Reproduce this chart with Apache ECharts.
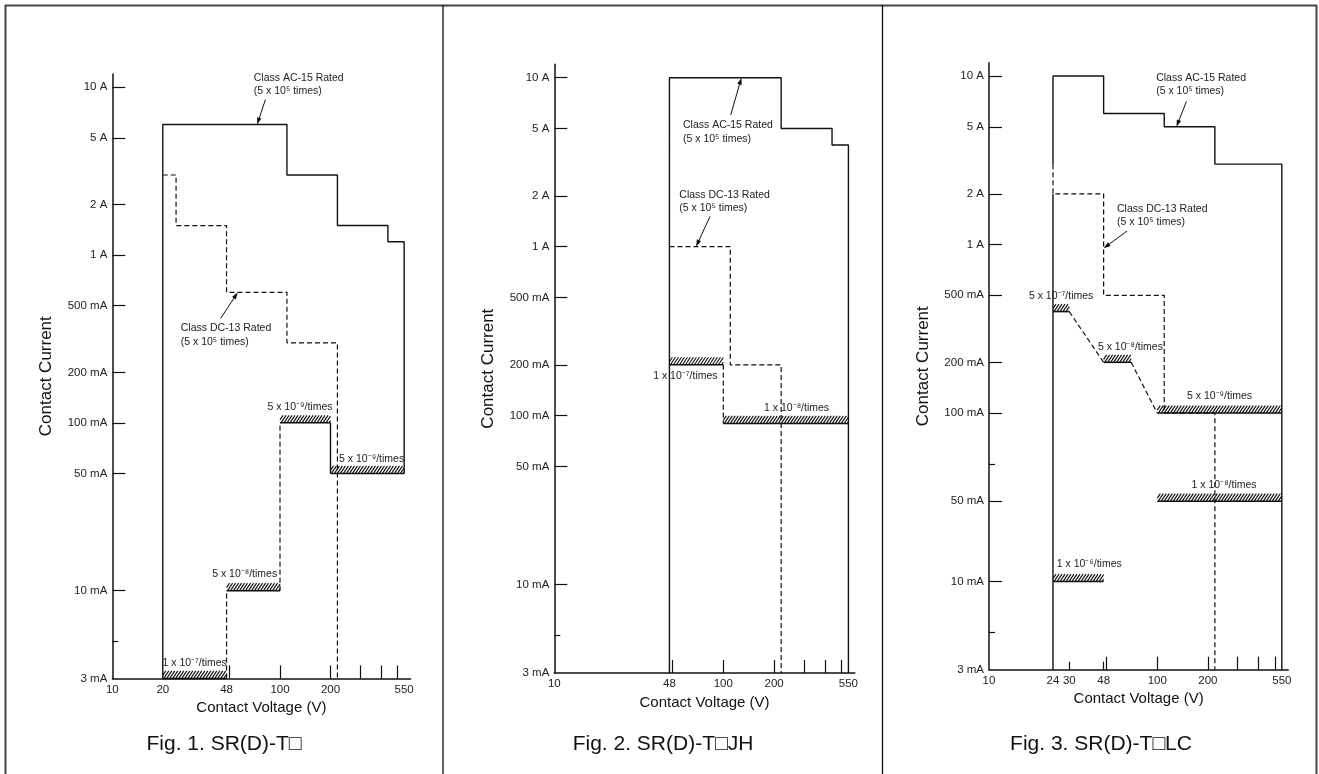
<!DOCTYPE html>
<html><head><meta charset="utf-8">
<script src="https://cdn.jsdelivr.net/npm/echarts@6/dist/echarts.min.js"></script>
<style>html,body{margin:0;padding:0;background:#fff}#c{width:1319px;height:774px}</style>
</head><body><div id="c"></div><script>
// ---------------- DATA ----------------
// Panel 1: SR(D)-T□
const p1XLabels = [10, 20, 48, 100, 200, 550];
const p1XTicks = [50, 100, 200, 300, 400, 500];
const p1YLabelValues = [0.003, 0.01, 0.05, 0.1, 0.2, 0.5, 1, 2, 5, 10];
const p1YLabels = ['3 mA', '10 mA', '50 mA', '100 mA', '200 mA', '500 mA', '1 A', '2 A', '5 A', '10 A'];
const p1YTicks = [0.01, 0.05, 0.1, 0.2, 0.5, 1, 2, 5, 10];
const p1YMinorTicks = [0.005];
const p1AC = [[20, 0.003], [20, 6], [110, 6], [110, 3], [220, 3], [220, 1.5], [440, 1.5], [440, 1.2], [550, 1.2], [550, 0.05]];
const p1DC = [[20, 3], [24, 3], [24, 1.5], [48, 1.5], [48, 0.6], [110, 0.6], [110, 0.3], [220, 0.3], [220, 0.003]];
const p1Life = [[20, 48, 0.003], [48, 100, 0.01], [100, 200, 0.1], [200, 550, 0.05]];
const p1LifeLabels = ['1 x 10\u207B\u2077/times', '5 x 10\u207B\u2078/times', '5 x 10\u207B\u2079/times', '5 x 10\u207B\u2079/times'];
const p1LifeSolidLinks = [[[200, 0.1], [200, 0.05]]];
const p1LifeDashedLinks = [[[48, 0.003], [48, 0.01]], [[100, 0.01], [100, 0.1]]];

// Panel 2: SR(D)-T□JH
const p2XLabels = [10, 48, 100, 200, 550];
const p2XTicks = [50, 100, 200, 300, 400, 500];
const p2YLabelValues = [0.003, 0.01, 0.05, 0.1, 0.2, 0.5, 1, 2, 5, 10];
const p2YLabels = ['3 mA', '10 mA', '50 mA', '100 mA', '200 mA', '500 mA', '1 A', '2 A', '5 A', '10 A'];
const p2YTicks = [0.01, 0.05, 0.1, 0.2, 0.5, 1, 2, 5, 10];
const p2YMinorTicks = [0.005];
const p2AC = [[48, 0.003], [48, 10], [220, 10], [220, 5], [440, 5], [440, 4], [550, 4], [550, 0.003]];
const p2DC = [[48, 1], [110, 1], [110, 0.2], [220, 0.2], [220, 0.003]];
const p2Life = [[48, 100, 0.2], [100, 550, 0.09]];
const p2LifeLabels = ['1 x 10\u207B\u2077/times', '1 x 10\u207B\u2078/times'];
const p2LifeSolidLinks = [];
const p2LifeDashedLinks = [[[100, 0.2], [100, 0.09]]];

// Panel 3: SR(D)-T□LC
const p3XLabels = [10, 24, 30, 48, 100, 200, 550];
const p3XTicks = [50, 100, 200, 300, 400, 500];
const p3XMinorTicks = [30, 48];
const p3YLabelValues = [0.003, 0.01, 0.03, 0.1, 0.2, 0.5, 1, 2, 5, 10];
const p3YLabels = ['3 mA', '10 mA', '50 mA', '100 mA', '200 mA', '500 mA', '1 A', '2 A', '5 A', '10 A'];
const p3YTicks = [0.01, 0.03, 0.1, 0.2, 0.5, 1, 2, 5, 10];
const p3YMinorTicks = [0.005, 0.05];
const p3AC = [[24, 3], [24, 10], [48, 10], [48, 6], [110, 6], [110, 5], [220, 5], [220, 3], [550, 3], [550, 0.003]];
const p3ACLower = [[24, 2], [24, 0.003]];
const p3DC = [[24, 3], [24, 2], [48, 2], [48, 0.5], [110, 0.5], [110, 0.1], [220, 0.1], [220, 0.003]];
const p3Life = [[24, 30, 0.4], [48, 70, 0.2], [100, 550, 0.1], [100, 550, 0.03], [24, 48, 0.01]];
const p3LifeLabels = ['5 x 10\u207B\u2077/times', '5 x 10\u207B\u2078/times', '5 x 10\u207B\u2079/times', '1 x 10\u207B\u2078/times', '1 x 10\u207B\u2076/times'];
const p3LifeSolidLinks = [];
const p3LifeDashedLinks = [[[30, 0.4], [48, 0.2]], [[70, 0.2], [100, 0.1]]];

const figTitles = ['Fig. 1. SR(D)-T\u25A1', 'Fig. 2. SR(D)-T\u25A1JH', 'Fig. 3. SR(D)-T\u25A1LC'];
const ratingTexts = ['Class AC-15 Rated\n(5 x 10\u2075 times)', 'Class DC-13 Rated\n(5 x 10\u2075 times)'];

// ---------------- LAYOUT / STYLE ----------------
const FONT = "'Liberation Sans', Arial, Helvetica, sans-serif";
const X_MIN = 10, X_MAX = 600, Y_MIN = 0.003, Y_MAX = 12;
const grids = [
  {left: 112.3, top: 74, width: 298.2, height: 604.4},
  {left: 554.3, top: 64.3, width: 300.5, height: 608.7},
  {left: 989, top: 62.7, width: 299.2, height: 607}
];
const titleCenters = [[224, 744], [663, 744], [1101, 744]];
const lifeLabelOffsets = [
  [[0, -15.5], [-8.6, -16.7], [-5.3, -16], [4.3, -14.6]],
  [[-11, 11.2], [10.7, -15.3]],
  [[0, -16], [13, -15.5], [0, -16.5], [4.5, -16], [11, -17]]
];
const ratingNotes = [
  {panel: 0, kind: 0, tip: [73, 6], tail: [8.4, -25], text: [-3.3, -46.6]},
  {panel: 0, kind: 1, tip: [56, 0.6], tail: [-17, 26], text: [-57, 36]},
  {panel: 1, kind: 0, tip: [128, 10], tail: [-10.7, 37.3], text: [-58.4, 47.6]},
  {panel: 1, kind: 1, tip: [69, 1], tail: [14, -30.3], text: [-16.7, -52]},
  {panel: 2, kind: 0, tip: [130, 5], tail: [10, -25.3], text: [-20.3, -48.7]},
  {panel: 2, kind: 1, tip: [48, 0.95], tail: [23.4, -17.3], text: [13.4, -39.6]}
];

const panels = [
  {xLabels: p1XLabels, xTicks: p1XTicks, xMinor: null, yLV: p1YLabelValues, yL: p1YLabels, yTicks: p1YTicks, yMinor: p1YMinorTicks,
   solid: [p1AC].concat(p1LifeSolidLinks), dashed: [p1DC].concat(p1LifeDashedLinks), life: p1Life, lifeLabels: p1LifeLabels},
  {xLabels: p2XLabels, xTicks: p2XTicks, xMinor: null, yLV: p2YLabelValues, yL: p2YLabels, yTicks: p2YTicks, yMinor: p2YMinorTicks,
   solid: [p2AC].concat(p2LifeSolidLinks), dashed: [p2DC].concat(p2LifeDashedLinks), life: p2Life, lifeLabels: p2LifeLabels},
  {xLabels: p3XLabels, xTicks: p3XTicks, xMinor: p3XMinorTicks, yLV: p3YLabelValues, yL: p3YLabels, yTicks: p3YTicks, yMinor: p3YMinorTicks,
   solid: [p3AC, p3ACLower].concat(p3LifeSolidLinks), dashed: [p3DC].concat(p3LifeDashedLinks), life: p3Life, lifeLabels: p3LifeLabels}
];

function labelLookup(vals, texts) {
  return function (v) {
    let best = 0;
    for (let i = 1; i < vals.length; i++) {
      if (Math.abs(Math.log(vals[i] / v)) < Math.abs(Math.log(vals[best] / v))) best = i;
    }
    return texts[best];
  };
}

function hatchRender(labels, offsets) {
  return function (params, api) {
    const a = api.coord([api.value(0), api.value(2)]);
    const b = api.coord([api.value(1), api.value(2)]);
    const h = 7.5, slant = 5, step = 3;
    const xa = a[0], xb = b[0], yb = a[1];
    const children = [];
    for (let k = -slant; k < xb - xa; k += step) {
      const t0 = Math.max(0, -k / slant), t1 = Math.min(1, (xb - xa - k) / slant);
      if (t1 <= t0) continue;
      children.push({type: 'line', shape: {x1: xa + k + t0 * slant, y1: yb - t0 * h, x2: xa + k + t1 * slant, y2: yb - t1 * h},
        style: {stroke: '#111', lineWidth: 1.15}});
    }
    children.push({type: 'line', shape: {x1: xa, y1: yb, x2: xb, y2: yb}, style: {stroke: '#111', lineWidth: 1.5}});
    const off = offsets[params.dataIndex];
    children.push({type: 'text', style: {text: labels[params.dataIndex], x: (xa + xb) / 2 + off[0], y: yb + off[1],
      align: 'center', verticalAlign: 'middle', fontSize: 10.5, fontFamily: FONT, fill: '#222'}});
    return {type: 'group', children: children};
  };
}

const xAxes = [], yAxes = [], series = [];
panels.forEach(function (p, i) {
  xAxes.push({
    type: 'log', logBase: 10, gridIndex: i, min: X_MIN, max: X_MAX, position: 'bottom',
    name: 'Contact Voltage (V)', nameLocation: 'middle', nameGap: 18,
    nameTextStyle: {fontSize: 15, color: '#111', fontFamily: FONT},
    axisLine: {show: true, onZero: false, lineStyle: {color: '#111', width: 1.5}},
    axisTick: {show: true, inside: true, length: 13, customValues: p.xTicks, lineStyle: {color: '#111', width: 1.2}},
    axisLabel: {show: true, customValues: p.xLabels, formatter: function (v) { return String(Math.round(v)); },
      margin: 5, fontSize: 11.5, color: '#222', fontFamily: FONT},
    splitLine: {show: false}, minorTick: {show: false}, minorSplitLine: {show: false}
  });
  yAxes.push({
    type: 'log', logBase: 10, gridIndex: i, min: Y_MIN, max: Y_MAX, position: 'left',
    name: 'Contact Current', nameLocation: 'middle', nameGap: 57, nameRotate: 90,
    nameTextStyle: {fontSize: 17, color: '#111', fontFamily: FONT},
    axisLine: {show: true, onZero: false, lineStyle: {color: '#111', width: 1.5}},
    axisTick: {show: true, inside: true, length: 13, customValues: p.yTicks, lineStyle: {color: '#111', width: 1.2}},
    axisLabel: {show: true, customValues: p.yLV, formatter: labelLookup(p.yLV, p.yL),
      margin: 5, fontSize: 11.5, color: '#222', fontFamily: FONT},
    splitLine: {show: false}, minorTick: {show: false}, minorSplitLine: {show: false}
  });
});
panels.forEach(function (p, i) {
  yAxes.push({
    type: 'log', logBase: 10, gridIndex: i, min: Y_MIN, max: Y_MAX, position: 'left', offset: 0,
    axisLine: {show: false}, axisLabel: {show: false}, splitLine: {show: false},
    axisTick: {show: true, inside: true, length: 6, customValues: p.yMinor, lineStyle: {color: '#111', width: 1.2}}
  });
});
panels.forEach(function (p, i) {
  if (!p.xMinor) return;
  xAxes.push({
    type: 'log', logBase: 10, gridIndex: i, min: X_MIN, max: X_MAX, position: 'bottom', offset: 0,
    axisLine: {show: false}, axisLabel: {show: false}, splitLine: {show: false},
    axisTick: {show: true, inside: true, length: 8, customValues: p.xMinor, lineStyle: {color: '#111', width: 1.2}}
  });
});

panels.forEach(function (p, i) {
  p.solid.forEach(function (pts) {
    series.push({type: 'line', xAxisIndex: i, yAxisIndex: i, data: pts, showSymbol: false, symbol: 'none',
      silent: true, animation: false, z: 3, lineStyle: {color: '#111', width: 1.4, type: 'solid'}});
  });
  p.dashed.forEach(function (pts) {
    series.push({type: 'line', xAxisIndex: i, yAxisIndex: i, data: pts, showSymbol: false, symbol: 'none',
      silent: true, animation: false, z: 3, lineStyle: {color: '#111', width: 1.2, type: [5, 3]}});
  });
  series.push({type: 'custom', coordinateSystem: 'cartesian2d', xAxisIndex: i, yAxisIndex: i, data: p.life,
    encode: {x: [0, 1], y: 2}, renderItem: hatchRender(p.lifeLabels, lifeLabelOffsets[i]),
    silent: true, animation: false, clip: false, z: 4});
});

const chart = echarts.init(document.getElementById('c'), null, {renderer: 'canvas'});
chart.setOption({
  animation: false,
  backgroundColor: '#fff',
  textStyle: {fontFamily: FONT},
  grid: grids.map(function (g) { return Object.assign({outerBoundsMode: 'none', containLabel: false}, g); }),
  xAxis: xAxes,
  yAxis: yAxes,
  series: series
});

const gfx = [];
function L(x1, y1, x2, y2, c, w) { gfx.push({type: 'line', silent: true, shape: {x1: x1, y1: y1, x2: x2, y2: y2}, style: {stroke: c, lineWidth: w}}); }
L(5, 5.5, 1317, 5.5, '#444', 2);
L(5.5, 5, 5.5, 774, '#444', 2);
L(443, 5, 443, 774, '#111', 1.3);
L(882.5, 5, 882.5, 774, '#111', 1.3);
L(1316.5, 5, 1316.5, 774, '#444', 2);
figTitles.forEach(function (t, i) {
  gfx.push({type: 'text', silent: true, x: titleCenters[i][0], y: titleCenters[i][1],
    style: {text: t, align: 'center', verticalAlign: 'middle', fontSize: 21, fontFamily: FONT, fill: '#111'}});
});
ratingNotes.forEach(function (n) {
  const tip = chart.convertToPixel({xAxisIndex: n.panel, yAxisIndex: n.panel}, n.tip);
  const tail = [tip[0] + n.tail[0], tip[1] + n.tail[1]];
  const dx = tip[0] - tail[0], dy = tip[1] - tail[1], len = Math.sqrt(dx * dx + dy * dy);
  const ux = dx / len, uy = dy / len, nx = -uy, ny = ux;
  const hl = 7, hw = 2.3;
  L(tail[0], tail[1], tip[0] - ux * 5, tip[1] - uy * 5, '#111', 1);
  gfx.push({type: 'polygon', silent: true, shape: {points: [[tip[0], tip[1]],
    [tip[0] - ux * hl + nx * hw, tip[1] - uy * hl + ny * hw], [tip[0] - ux * hl - nx * hw, tip[1] - uy * hl - ny * hw]]},
    style: {fill: '#111'}});
  gfx.push({type: 'text', silent: true, x: tip[0] + n.text[0], y: tip[1] + n.text[1] - 6.6,
    style: {text: ratingTexts[n.kind], align: 'left', verticalAlign: 'top', lineHeight: 13.3,
      fontSize: 10.5, fontFamily: FONT, fill: '#222'}});
});
chart.setOption({graphic: {elements: gfx}});
</script></body></html>
